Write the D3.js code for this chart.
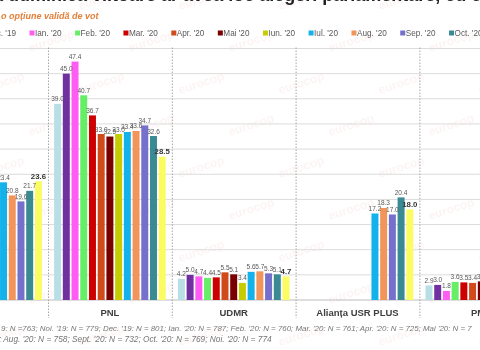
<!DOCTYPE html>
<html>
<head>
<meta charset="utf-8">
<script src="https://cdn.jsdelivr.net/npm/d3@7"></script>
<style>
  body { margin: 0; background: #fff; }
  svg { display: block; font-family: "Liberation Sans", Arial, sans-serif; }
</style>
</head>
<body>
<div id="chart"></div>
<script>
// parties (first and last are cut by the frame)
const parties = ["PSD", "PNL", "UDMR", "Alianța USR PLUS", "PMP"];
const months = ["Noi. '19", "Dec. '19", "Ian. '20", "Feb. '20", "Mar. '20", "Apr. '20", "Mai '20",
                "Iun. '20", "Iul. '20", "Aug. '20", "Sep. '20", "Oct. '20", "Noi. '20"];
const colors = ["#b9dfe6", "#7030a0", "#ff5cf4", "#66ee66", "#cc0000", "#d04a1c", "#7a0000",
                "#c6cc00", "#14b2ea", "#f2955a", "#7470cc", "#3a8a94", "#fbfb62"];

// values per party, one per month (null = not visible / not measured)
const psd = [null, null, null, null, null, null, null, null, 23.4, 20.8, 19.6, 21.7, 23.6];
const pnl = [39.0, 45.0, 47.4, 40.7, 36.7, 33.0, 32.5, 33.0, 33.4, 33.6, 34.7, 32.6, 28.5];
const udmr = [4.2, 5.0, 4.7, 4.4, 4.5, 5.5, 5.1, 3.4, 5.6, 5.7, 5.3, 5.1, 4.7];
const usrPlus = [null, null, null, null, null, null, null, null, 17.2, 18.3, 17.0, 20.4, 18.0];
const pmp = [2.9, 3.0, 1.8, 3.6, 3.5, 3.4, 3.7, null, null, null, null, null, null];

const yTicks = [0, 5, 10, 15, 20, 25, 30, 35, 40, 45, 50];

const title = "Dacă duminica viitoare ar avea loc alegeri parlamentare, cu ce partid ați vota? (%)";
const subtitle = "o opțiune validă de vot";
const note1 = "9: N =763; Noi. '19: N = 779; Dec. '19: N = 801; Ian. '20: N = 787; Feb. '20: N = 760; Mar. '20: N = 761; Apr. '20: N = 725; Mai '20: N = 7";
const note2 = "; Aug. '20: N = 758; Sept. '20: N = 732; Oct. '20: N = 769; Noi. '20: N = 774";

const table = [psd, pnl, udmr, usrPlus, pmp];

const width = 480, height = 350;

const svg = d3.select("#chart").append("svg")
    .attr("width", width)
    .attr("height", height);

var x0 = d3.scaleBand()
    .domain(parties)
    .range([-75.8, 543.2]);

var x1 = d3.scaleBand()
    .domain(months)
    .range([0, x0.bandwidth()])
    .paddingInner(0.2)
    .paddingOuter(0.7);

var y = d3.scaleLinear()
    .domain([0, 50])
    .range([300, 48.5]);

var color = d3.scaleOrdinal().domain(months).range(colors);

// watermark, very faint
var wm = svg.append("g").attr("fill", "#f3c9c9").attr("opacity", 0.2)
    .style("font-size", "12px").style("font-weight", "bold");
for (var r = 0; r < 9; r++) {
    for (var c = 0; c < 6; c++) {
        var wx = c * 100 + (r % 2) * 50 - 20;
        var wy = r * 42 + 10;
        wm.append("text")
            .attr("transform", "translate(" + wx + "," + wy + ") rotate(-18)")
            .text("eurocop");
    }
}

// title (mostly above the frame)
svg.append("text")
    .attr("x", -40)
    .attr("y", 0.5)
    .style("font-size", "18px")
    .style("font-weight", "bold")
    .attr("fill", "#222")
    .text(title);

svg.append("text")
    .attr("x", 1)
    .attr("y", 19)
    .style("font-size", "9px")
    .style("font-weight", "bold")
    .style("font-style", "italic")
    .attr("fill", "#e2803a")
    .text(subtitle);

// legend
var legend = svg.append("g").attr("class", "legend");
var items = legend.selectAll("g")
    .data(months)
    .enter().append("g");
items.append("rect")
    .attr("width", 5)
    .attr("height", 5)
    .attr("y", 30.5)
    .attr("fill", d => color(d));
items.append("text")
    .attr("x", 5.5)
    .attr("y", 36)
    .style("font-size", "8.2px")
    .attr("fill", "#595959")
    .text(d => d);
var pos = [], acc = 0;
items.each(function (d, i) {
    pos.push(acc);
    acc += 5.5 + d3.select(this).select("text").node().getComputedTextLength() + 13.5;
});
var shift = 29.5 - pos[2];
items.attr("transform", (d, i) => "translate(" + (pos[i] + shift) + ",0)");

// gridlines
svg.append("g")
    .selectAll("line")
    .data(yTicks)
    .enter().append("line")
    .attr("x1", 0)
    .attr("x2", width)
    .attr("y1", d => y(d))
    .attr("y2", d => y(d))
    .attr("stroke", d => d === 0 ? "#bdbdbd" : "#dcdcdc")
    .attr("stroke-width", 1);

// group separators
svg.append("g")
    .selectAll("line")
    .data(parties)
    .enter().append("line")
    .attr("x1", d => x0(d) + 0.5)
    .attr("x2", d => x0(d) + 0.5)
    .attr("y1", y(50) - 1)
    .attr("y2", 318)
    .attr("stroke", "#a6a6a6")
    .attr("stroke-dasharray", "1.5,1.5");

// bars
var group = svg.selectAll(".party")
    .data(parties)
    .enter().append("g")
    .attr("class", "party")
    .attr("transform", d => "translate(" + x0(d) + ",0)");

var cells = group.selectAll(".bar")
    .data((d, i) => months.map((m, j) => ({ month: m, value: table[i][j], last: j === months.length - 1 }))
        .filter(o => o.value !== null))
    .enter();

cells.append("rect")
    .attr("class", "bar")
    .attr("x", d => x1(d.month))
    .attr("width", x1.bandwidth())
    .attr("y", d => y(d.value))
    .attr("height", d => y(0) - y(d.value))
    .attr("fill", d => color(d.month));

cells.append("text")
    .attr("x", d => x1(d.month) + x1.bandwidth() / 2)
    .attr("y", d => y(d.value) - 2.5)
    .attr("text-anchor", "middle")
    .style("font-size", d => d.last ? "7.8px" : "6.5px")
    .style("font-weight", d => d.last ? "bold" : "normal")
    .attr("fill", d => d.last ? "#333" : "#595959")
    .text(d => d.value.toFixed(1));

// party labels
group.append("text")
    .attr("x", x0.bandwidth() / 2)
    .attr("y", 315.5)
    .attr("text-anchor", "middle")
    .style("font-size", "9.5px")
    .style("font-weight", "bold")
    .attr("fill", "#404040")
    .text(d => d);

// footnote
svg.append("text")
    .attr("x", 1)
    .attr("y", 331)
    .style("font-size", "7.9px")
    .style("font-style", "italic")
    .attr("fill", "#767676")
    .text(note1);
svg.append("text")
    .attr("x", -1)
    .attr("y", 342)
    .style("font-size", "8.3px")
    .style("font-style", "italic")
    .attr("fill", "#767676")
    .text(note2);
</script>
</body>
</html>
